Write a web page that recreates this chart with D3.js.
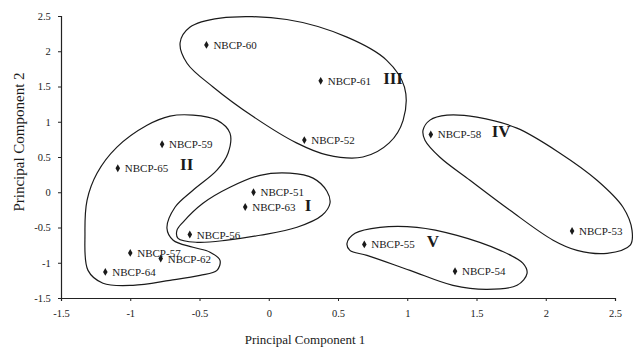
<!DOCTYPE html>
<html><head><meta charset="utf-8">
<script src="https://cdn.jsdelivr.net/npm/d3@7"></script>
<style>
body{margin:0;background:#fff;}
text{font-family:"Liberation Serif","DejaVu Serif",serif;fill:#1a1a1a;}
</style></head>
<body><svg id="c" width="634" height="352"></svg>
<script>
// ---- data ----
const names = ["NBCP-60","NBCP-61","NBCP-52","NBCP-59","NBCP-65","NBCP-51","NBCP-63","NBCP-56","NBCP-57","NBCP-62","NBCP-64","NBCP-58","NBCP-53","NBCP-55","NBCP-54"];
const pc1 = [-0.45, 0.375, 0.257, -0.77, -1.09, -0.11, -0.17, -0.57, -1.0, -0.78, -1.18, 1.17, 2.19, 0.69, 1.345];
const pc2 = [2.09, 1.58, 0.74, 0.68, 0.34, 0.0, -0.21, -0.6, -0.86, -0.94, -1.13, 0.82, -0.55, -0.74, -1.12];
const xTicks = [-1.5,-1,-0.5,0,0.5,1,1.5,2,2.5];
const yTicks = [-1.5,-1,-0.5,0,0.5,1,1.5,2,2.5];
const clusterNames = ["I","II","III","IV","V"];
const clusterX = [0.26, -0.64, 0.826, 1.61, 1.14];
const clusterY = [-0.26, 0.31, 1.53, 0.79, -0.77];
// cluster outlines (PC1, PC2)
const outlineI = [[-0.663,-0.54],[-0.62,-0.426],[-0.475,-0.156],[-0.28,0.071],[-0.063,0.24],[0.153,0.27],[0.32,0.2],[0.42,0.014],[0.442,-0.156],[0.385,-0.327],[0.204,-0.497],[-0.063,-0.61],[-0.30,-0.68],[-0.518,-0.71],[-0.655,-0.653]];
const outlineII = [[-0.547,1.094],[-0.374,1.023],[-0.28,0.838],[-0.294,0.554],[-0.374,0.313],[-0.547,0.028],[-0.677,-0.213],[-0.735,-0.511],[-0.69,-0.68],[-0.547,-0.78],[-0.424,-0.85],[-0.352,-0.966],[-0.374,-1.108],[-0.496,-1.18],[-0.713,-1.25],[-0.98,-1.32],[-1.197,-1.29],[-1.305,-1.108],[-1.327,-0.58],[-1.312,-0.114],[-1.24,0.27],[-1.096,0.64],[-0.879,0.95],[-0.713,1.08]];
const outlineIII = [[-0.64,2.12],[-0.57,2.34],[-0.35,2.47],[0.13,2.45],[0.565,2.2],[0.85,1.875],[0.98,1.49],[0.97,1.02],[0.87,0.70],[0.68,0.50],[0.42,0.53],[0.20,0.70],[-0.11,1.07],[-0.40,1.49],[-0.59,1.83]];
const outlineIV = [[1.114,0.88],[1.164,1.023],[1.287,1.094],[1.503,1.065],[1.792,0.909],[2.103,0.554],[2.37,0.17],[2.558,-0.213],[2.623,-0.54],[2.61,-0.75],[2.443,-0.866],[2.226,-0.824],[2.053,-0.68],[1.742,-0.256],[1.453,0.17],[1.236,0.497],[1.128,0.739]];
const outlineV = [[0.565,-0.724],[0.623,-0.582],[0.803,-0.497],[1.07,-0.497],[1.359,-0.611],[1.67,-0.824],[1.836,-1.008],[1.865,-1.15],[1.793,-1.32],[1.576,-1.378],[1.33,-1.32],[1.02,-1.108],[0.709,-0.895],[0.586,-0.824]];
const outlines = [outlineI, outlineII, outlineIII, outlineIV, outlineV];

// ---- chart ----
const svg = d3.select("#c");
const x = d3.scaleLinear().domain([-1.5,2.5]).range([61,615]);
const y = d3.scaleLinear().domain([-1.5,2.5]).range([298,16]);

const xAxis = svg.append("g").attr("transform","translate(0,298)")
  .call(d3.axisBottom(x).tickValues(xTicks).tickSize(3).tickFormat(d=>d));
xAxis.select(".domain").attr("stroke","#222").attr("stroke-width",1.2);
xAxis.selectAll("text").attr("dy","1.2em").style("font-size","10.5px");
const yAxis = svg.append("g").attr("transform","translate(61,0)")
  .call(d3.axisLeft(y).tickValues(yTicks).tickSize(3).tickFormat(d=>d));
yAxis.select(".domain").attr("stroke","#222").attr("stroke-width",1.2);
yAxis.selectAll("text").attr("dx","-0.4em").style("font-size","10.5px");
svg.selectAll(".tick line").attr("stroke","#222");

svg.append("text").attr("x",305).attr("y",344).attr("text-anchor","middle")
  .style("font-size","13px").text("Principal Component 1");
svg.append("text").attr("transform","translate(24,142) rotate(-90)").attr("text-anchor","middle")
  .style("font-size","15px").text("Principal Component 2");

const line = d3.line().x(d=>x(d[0])).y(d=>y(d[1])).curve(d3.curveCatmullRomClosed.alpha(0.5));
svg.append("g").selectAll("path").data(outlines).join("path")
  .attr("d",line).attr("fill","none").attr("stroke","#1a1a1a").attr("stroke-width",1.2);

const pts = names.map((n,i)=>({n, a:pc1[i], b:pc2[i]}));
const g = svg.append("g");
g.selectAll("path").data(pts).join("path")
  .attr("transform",d=>`translate(${x(d.a)},${y(d.b)})`)
  .attr("d", d3.symbol(d3.symbolDiamond, 18)).attr("fill","#1a1a1a");
g.selectAll("text").data(pts).join("text")
  .attr("x",d=>x(d.a)+7).attr("y",d=>y(d.b)+4)
  .style("font-size","11px").text(d=>d.n);

svg.append("g").selectAll("text").data(clusterNames).join("text")
  .attr("x",(d,i)=>x(clusterX[i])).attr("y",(d,i)=>y(clusterY[i]))
  .style("font-size","17px").style("font-weight","bold").text(d=>d);
</script></body></html>
